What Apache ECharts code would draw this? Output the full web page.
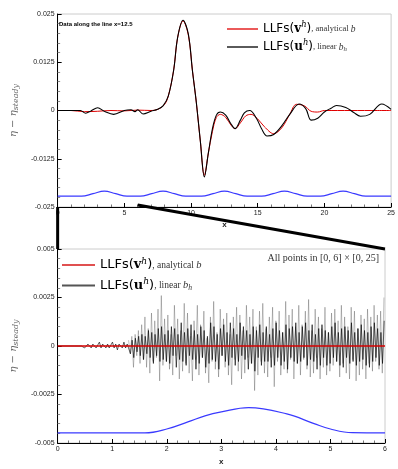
<!DOCTYPE html>
<html>
<head>
<meta charset="utf-8">
<script src="https://cdn.jsdelivr.net/npm/echarts@6/dist/echarts.min.js"></script>
<style>
  html, body { margin: 0; padding: 0; background: #fff; }
  #chart { width: 398px; height: 469px; }
</style>
</head>
<body>
<div id="chart"></div>
<script>
// top panel: data along the line x=12.5
const redX = [0, 1, 2, 3, 4, 5, 6, 7, 7.5, 8, 8.3, 8.7, 9.0, 9.4, 9.8, 10.1, 10.4, 10.7, 11.0, 11.3, 11.6, 11.9, 12.2, 12.6, 13.0, 13.3, 13.7, 14.1, 14.5, 15.0, 15.5, 16.2, 16.8, 17.4, 17.9, 18.5, 19.0, 19.5, 20, 21, 22, 23, 24, 25];
const redY = [0, 0, -0.0003, -0.0002, 0, -0.0001, 0.0001, 0, 0.0003, 0.0015, 0.0038, 0.0105, 0.019, 0.0232, 0.0195, 0.0105, 0.002, -0.008, -0.0168, -0.011, -0.0055, -0.0018, -0.001, -0.0018, -0.0038, -0.0047, -0.0032, -0.0014, -0.001, -0.0022, -0.0042, -0.006, -0.0045, -0.001, 0.0016, 0.0012, -0.0002, -0.0004, 0, 0, 0, 0, 0, 0];

const blackX = [0, 1, 1.7, 2.1, 2.5, 3.0, 3.5, 4.2, 5.0, 5.5, 5.8, 6.0, 6.4, 7.0, 7.5, 7.9, 8.3, 8.7, 9.0, 9.4, 9.8, 10.1, 10.4, 10.7, 11.0, 11.3, 11.6, 11.9, 12.2, 12.6, 13.0, 13.3, 13.7, 14.0, 14.4, 14.9, 15.3, 15.7, 16.2, 16.8, 17.4, 18.1, 18.6, 19.0, 19.5, 20.0, 20.5, 20.9, 21.6, 22.2, 22.7, 23.4, 24.3, 25];
const blackY = [0, 0, 0, -0.0007, -0.0001, 0.0007, -0.0002, -0.001, 0, 0.0002, -0.0003, 0.0002, -0.0009, -0.0002, 0.0003, 0.0012, 0.0038, 0.0105, 0.019, 0.0234, 0.0198, 0.0105, 0.002, -0.008, -0.0172, -0.011, -0.0048, -0.0012, -0.0004, -0.0012, -0.0035, -0.0047, -0.0025, -0.0006, 0, -0.002, -0.0048, -0.0066, -0.0062, -0.004, -0.001, 0.0017, 0.0005, -0.0025, -0.002, -0.0004, 0.0006, 0.0013, 0.0008, -0.0005, -0.0015, -0.001, 0.0017, 0.0003];

// bottom (bathymetry) curve of the top panel
const bedTopX = [0, 1.8, 2.65, 3.5, 4.35, 5.2, 6.2, 7.05, 7.9, 8.75, 9.6, 10.8, 11.65, 12.5, 13.35, 14.2, 15.3, 16.15, 17.0, 17.85, 18.7, 19.7, 20.55, 21.4, 22.25, 23.1, 25];
const bedTopY = [-0.0222, -0.0222, -0.02155, -0.0209, -0.02155, -0.0222, -0.0222, -0.02155, -0.0209, -0.02155, -0.0222, -0.0222, -0.02155, -0.0209, -0.02155, -0.0222, -0.0222, -0.02155, -0.0209, -0.02155, -0.0222, -0.0222, -0.02155, -0.0209, -0.02155, -0.0222, -0.0222];

// bottom panel: all points in [0,6] x [0,25]
const bedBotX = [0, 1.6, 2.0, 2.4, 2.7, 3.0, 3.5, 4.2, 4.7, 5.0, 5.4, 6];
const bedBotY = [-0.00448, -0.00448, -0.00428, -0.0039, -0.0036, -0.0034, -0.00318, -0.0035, -0.004, -0.00428, -0.00447, -0.00448];
const flatX = [0, 6];
const flatY = [0, 0];

const noiseAStart = 1.30;
const noiseA = [
  3, -4, 5, -11, 6, -5, 8,
  -9, 11, -7, 15, -11, 9, -14, 17, -8, 13, -6, 19, -18, 26, -10, 14, -8,
  16, -12, 6, -15, 21, -5, 14, -17, 8, -13, 22, -9, 17, -14, 5, -18, 13, -7, 21, -15,
  11, -6, 18, -14, 4, -19, 15, -8, 23, -12, 7, -16, 19, -5, 14, -11, 17, -15, 6, -20,
  15, -7, 20, -13, 16, -17, 8, -14, 21, -6, 15, -9, 19, -23, 10, -15, 18, -8, 22, -14,
  9, -16, 15, -6, 20, -21, 13, -8, 18, -15, 7, -12, 23, -14, 16, -7, 19, -17, 10, -9,
  21, -15, 11, -7, 18, -12, 24, -16, 8, -14, 19, -6, 15, -17, 9, -11, 20, -15, 7, -13,
  17, -10, 19, -8, 13, -16, 21, -9, 15, -14, 10, -17, 20, -7, 18, -18, 9, -15, 16, -12,
  14, -17, 19, -9, 15, -13, 21, -8, 16, -12, 18, -14, 25
];
const noiseBStart = 0.315;
const noiseB = [
  0, 1, 0, -1, 0, 1, -1, 0, 1, 0, -1, 1, 0, -1, 0, 2, -1, 1, 0, -1, 1, -1, 0, 2, -1, 1, -2, 1, 0, -1, 2, -1, 1,
  2, -4, 3, -6, 4, -3, 5,
  -5, 6, -7, 5, -4, 8, -6, 7, -9, 6, -5, 9, -8, 10, -7, 6, -8,
  8, -9, 10, -5, 9, -11, 6, -7, 12, -8, 7, -10, 9, -5, 11, -7, 8, -12, 6, -9,
  10, -6, 8, -11, 5, -9, 12, -7, 10, -8, 6, -12, 9, -5, 11, -8, 7, -10, 12, -6,
  9, -10, 6, -8, 12, -5, 10, -7, 8, -12, 6, -9, 10, -13, 8, -6, 11, -10, 7, -8,
  10, -8, 6, -11, 9, -10, 12, -6, 8, -10, 7, -8, 11, -12, 9, -6, 10, -8, 12, -9,
  7, -8, 10, -6, 12, -10, 8, -7, 11, -8, 6, -12, 9, -10, 11, -6, 8, -10, 7, -9,
  10, -6, 12, -8, 7, -10, 9, -11, 10, -6, 8, -9, 12, -8, 7, -10, 9, -8, 11, -7,
  8, -10, 7, -11, 10, -8, 12, -6, 9, -10, 7, -9, 13
];
const noiseStep = 0.03;

const nameV = "LLFs(v^h), analytical b";
const nameU = "LLFs(u^h), linear b_h";

function pairs(xs, ys) {
  return xs.map((x, i) => [x, ys[i]]);
}
function noisePairs(start, vals) {
  return vals.map((v, i) => [+(start + i * noiseStep).toFixed(3), v * 1e-4]);
}

const legendRich = function (size, small) {
  return {
    s: { fontFamily: "DejaVu Sans", fontSize: size, lineHeight: 16, color: "#000" },
    b: { fontFamily: "DejaVu Serif", fontWeight: "bold", fontSize: size, lineHeight: 16, color: "#000" },
    sup: { fontFamily: "DejaVu Serif", fontStyle: "italic", fontSize: size * 0.7, lineHeight: 16, verticalAlign: "top", color: "#000" },
    t: { fontFamily: "Liberation Serif", fontSize: small, lineHeight: 16, color: "#333" },
    i: { fontFamily: "Liberation Serif", fontStyle: "italic", fontSize: small + 1, lineHeight: 16, color: "#333" },
    sub: { fontFamily: "Liberation Serif", fontStyle: "italic", fontSize: small * 0.8, lineHeight: 16, verticalAlign: "middle", padding: [4, 0, 0, 0], color: "#333" }
  };
};
function legendText(name) {
  if (name === nameV) return "{s|LLFs(}{b|v}{sup|h}{s|)}{t|, analytical }{i|b}";
  return "{s|LLFs(}{b|u}{sup|h}{s|)}{t|, linear }{i|b}{sub|h}";
}

function xAxisOf(grid, max, interval, gap) {
  return {
    type: "value",
    gridIndex: grid,
    min: 0,
    max: max,
    interval: interval,
    name: "x",
    nameLocation: "middle",
    nameGap: gap,
    nameTextStyle: { fontFamily: "Liberation Sans", fontWeight: "bold", fontSize: 8, color: "#222" },
    axisLine: { onZero: false, lineStyle: { color: "#000", width: 1 } },
    axisTick: { inside: true, length: 4, lineStyle: { color: "#000" } },
    minorTick: { show: true, splitNumber: 5, length: 2.5, lineStyle: { color: "#777" } },
    axisLabel: { fontFamily: "Liberation Sans", fontSize: 7, margin: 3, color: "#222" },
    splitLine: { show: false }
  };
}
function yAxisOf(grid, lim, interval) {
  return {
    type: "value",
    gridIndex: grid,
    min: -lim,
    max: lim,
    interval: interval,
    name: "{e|η − η}{s|steady}",
    nameLocation: "middle",
    nameRotate: 90,
    nameGap: 34,
    nameTextStyle: {
      rich: {
        e: { fontFamily: "DejaVu Serif", fontStyle: "italic", fontSize: 10, lineHeight: 14, color: "#666" },
        s: { fontFamily: "DejaVu Serif", fontStyle: "italic", fontSize: 8, lineHeight: 10, verticalAlign: "bottom", color: "#666" }
      }
    },
    axisLine: { onZero: false, lineStyle: { color: "#000", width: 1 } },
    axisTick: { inside: true, length: 4, lineStyle: { color: "#000" } },
    minorTick: { show: true, splitNumber: 5, length: 2.5, lineStyle: { color: "#888" } },
    axisLabel: { fontFamily: "Liberation Sans", fontSize: 7, margin: 3, color: "#222" },
    splitLine: { show: false }
  };
}

const chart = echarts.init(document.getElementById("chart"), null, { renderer: "canvas" });

const option = {
  animation: false,
  backgroundColor: "#fff",
  grid: [
    { left: 49, right: 6, top: 14, height: 193, show: true, borderColor: "#cccccc", borderWidth: 1 },
    { left: 49, right: 13, top: 249, height: 194, show: true, borderColor: "#cccccc", borderWidth: 1 }
  ],
  legend: [
    {
      left: 222, top: 16, orient: "vertical", icon: "rect", itemWidth: 31, itemHeight: 1.3, itemGap: 4,
      selectedMode: false, formatter: legendText,
      textStyle: { rich: legendRich(12, 8.5) },
      data: [
        { name: nameV, itemStyle: { color: "#e00000" } },
        { name: nameU, itemStyle: { color: "#000" } }
      ]
    },
    {
      left: 57, top: 252, orient: "vertical", icon: "rect", itemWidth: 33, itemHeight: 2, itemGap: 6,
      selectedMode: false, formatter: legendText,
      textStyle: { rich: legendRich(13, 9.5) },
      data: [
        { name: nameV, itemStyle: { color: "#e05050" } },
        { name: nameU, itemStyle: { color: "#555" } }
      ]
    }
  ],
  xAxis: [xAxisOf(0, 25, 5, 14), xAxisOf(1, 6, 1, 15)],
  yAxis: [yAxisOf(0, 0.025, 0.0125), yAxisOf(1, 0.005, 0.0025)],
  series: [
    {
      name: nameV, type: "line", xAxisIndex: 0, yAxisIndex: 0, symbol: "none", smooth: 0.35,
      itemStyle: { color: "#e00000" },
      lineStyle: { color: "#e00000", width: 1 }, data: pairs(redX, redY), z: 3
    },
    {
      name: nameU, type: "line", xAxisIndex: 0, yAxisIndex: 0, symbol: "none", smooth: 0.35,
      itemStyle: { color: "#000" },
      lineStyle: { color: "#000", width: 1.1 }, data: pairs(blackX, blackY), z: 4
    },
    {
      type: "line", xAxisIndex: 0, yAxisIndex: 0, symbol: "none", smooth: 0.4,
      lineStyle: { color: "#3a3aff", width: 1.2 }, data: pairs(bedTopX, bedTopY), z: 2
    },
    {
      name: nameU, type: "line", xAxisIndex: 1, yAxisIndex: 1, symbol: "none",
      itemStyle: { color: "#000" },
      lineStyle: { color: "rgba(0,0,0,0.3)", width: 0.8 }, data: noisePairs(noiseAStart, noiseA), z: 2
    },
    {
      name: nameU, type: "line", xAxisIndex: 1, yAxisIndex: 1, symbol: "none",
      itemStyle: { color: "#000" },
      lineStyle: { color: "rgba(0,0,0,0.7)", width: 0.9 }, data: [[0, 0]].concat(noisePairs(noiseBStart, noiseB)), z: 3
    },
    {
      name: nameV, type: "line", xAxisIndex: 1, yAxisIndex: 1, symbol: "none",
      itemStyle: { color: "#d40000" },
      lineStyle: { color: "#d40000", width: 1.5 }, data: pairs(flatX, flatY), z: 4
    },
    {
      type: "line", xAxisIndex: 1, yAxisIndex: 1, symbol: "none", smooth: 0.4,
      lineStyle: { color: "#3a3aff", width: 1.2 }, data: pairs(bedBotX, bedBotY), z: 2
    }
  ]
};
chart.setOption(option);

// zoom connector from [0,6] of the top panel to the bottom panel
const a0 = chart.convertToPixel({ gridIndex: 0 }, [0, -0.025]);
const a6 = chart.convertToPixel({ gridIndex: 0 }, [6, -0.025]);
const b0 = chart.convertToPixel({ gridIndex: 1 }, [0, 0.005]);
const b6 = chart.convertToPixel({ gridIndex: 1 }, [6, 0.005]);

chart.setOption({
  graphic: [
    {
      type: "text", left: 59, top: 21, z: 10,
      style: { text: "Data along the line x=12.5", fontFamily: "Liberation Sans", fontWeight: "bold", fontSize: 6, fill: "#000" }
    },
    {
      type: "text", right: 19, top: 253, z: 10,
      style: { text: "All points in [0, 6] × [0, 25]", fontFamily: "Liberation Serif", fontSize: 10, fill: "#333" }
    },
    {
      type: "line", z: 20,
      shape: { x1: a0[0], y1: a0[1], x2: b0[0], y2: b0[1] },
      style: { stroke: "#000", lineWidth: 3 }
    },
    {
      type: "line", z: 20,
      shape: { x1: a6[0], y1: a6[1] - 2, x2: b6[0], y2: b6[1] },
      style: { stroke: "#000", lineWidth: 3 }
    }
  ]
});
</script>
</body>
</html>
